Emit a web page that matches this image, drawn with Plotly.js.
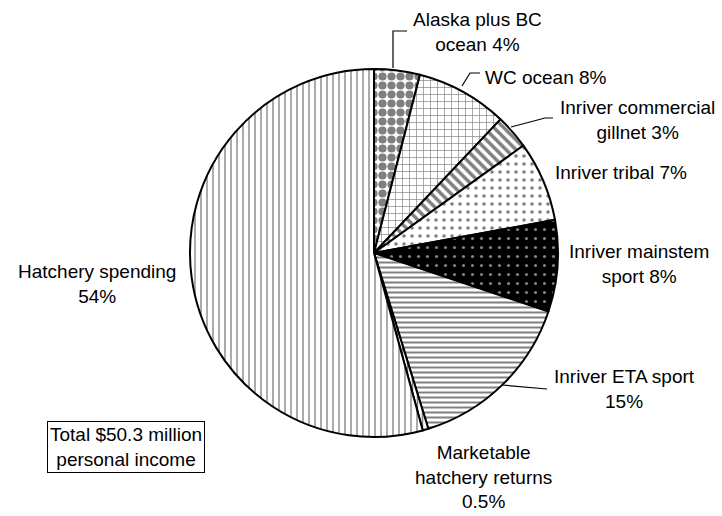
<!DOCTYPE html>
<html>
<head>
<meta charset="utf-8">
<script src="https://cdn.plot.ly/plotly-3.0.1.min.js"></script>
<style>html,body{margin:0;padding:0;background:#fff;}#chart{width:722px;height:516px;}</style>
</head>
<body>
<div id="chart"></div>
<script>
// ---- data ----
const categories = [
  "Alaska plus BC ocean",
  "WC ocean",
  "Inriver commercial gillnet",
  "Inriver tribal",
  "Inriver mainstem sport",
  "Inriver ETA sport",
  "Marketable hatchery returns",
  "Hatchery spending"
];
const shares = [4, 8, 3, 7, 8, 15, 0.5, 54];
const labelTexts = [
  "Alaska plus BC<br>ocean 4%",
  "WC ocean 8%",
  "Inriver commercial<br>gillnet 3%",
  "Inriver tribal 7%",
  "Inriver mainstem<br>sport 8%",
  "Inriver ETA sport<br>15%",
  "Marketable<br>hatchery returns<br>0.5%",
  "Hatchery spending<br>54%"
];
const totalNote = "Total $50.3 million<br>personal income";

// ---- styling ----
const W = 722, H = 516;
const px = x => x / W;
const py = y => 1 - y / H;

const bgColors = ["#fff", "#fff", "#fff", "#fff", "#000", "#fff", "#fff", "#fff"];
const patShapes = [".", "+", "\\", ".", ".", "-", "|", "|"];
const patFg = ["#000", "#000", "#000", "#000", "#fff", "#000", "#000", "#000"];
const patSize = [9, 7, 7, 8, 9, 5, 5, 6];
const patSolid = [0.65, 0.18, 0.5, 0.16, 0.1, 0.4, 0.3, 0.22];

const trace = {
  type: "pie",
  labels: categories,
  values: shares,
  sort: false,
  direction: "clockwise",
  rotation: 0,
  textinfo: "none",
  hoverinfo: "label+percent",
  showlegend: false,
  domain: {x: [px(190), px(558)], y: [py(438), py(68)]},
  marker: {
    colors: bgColors,
    line: {color: "#000", width: 2},
    pattern: {
      shape: patShapes,
      fgcolor: patFg,
      bgcolor: bgColors,
      size: patSize,
      solidity: patSolid,
      fillmode: "overlay"
    }
  }
};

const labelPos = [
  [477, 32], [546, 77], [637, 120], [621, 173],
  [639, 264], [624, 389], [483, 477], [97, 284]
];
const font = {family: "Liberation Sans, Arial, sans-serif", size: 19, color: "#000"};
const annotations = labelTexts.map((t, i) => ({
  xref: "paper", yref: "paper",
  x: px(labelPos[i][0]), y: py(labelPos[i][1]),
  xanchor: "center", yanchor: "middle",
  text: t, showarrow: false, font: font, align: "center"
}));
annotations.push({
  xref: "paper", yref: "paper",
  x: px(126), y: py(447), xanchor: "center", yanchor: "middle",
  text: totalNote, showarrow: false, font: font, align: "center",
  bordercolor: "#000", borderwidth: 1, borderpad: 2, bgcolor: "#fff"
});

const leader = pts => ({
  type: "path", xref: "paper", yref: "paper",
  path: "M " + pts.map(p => px(p[0]) + "," + py(p[1])).join(" L "),
  line: {color: "#000", width: 1.2}
});
const shapes = [
  leader([[393, 68], [393, 31], [407, 31]]),
  leader([[462, 86], [470, 73], [480, 73]]),
  leader([[511, 127], [545, 118], [553, 118]]),
  leader([[502, 385], [547, 389]])
];

const layout = {
  width: W, height: H,
  margin: {l: 0, r: 0, t: 0, b: 0},
  paper_bgcolor: "#fff",
  annotations: annotations,
  shapes: shapes,
  showlegend: false
};

Plotly.newPlot("chart", [trace], layout, {displayModeBar: false, staticPlot: true});
</script>
</body>
</html>
